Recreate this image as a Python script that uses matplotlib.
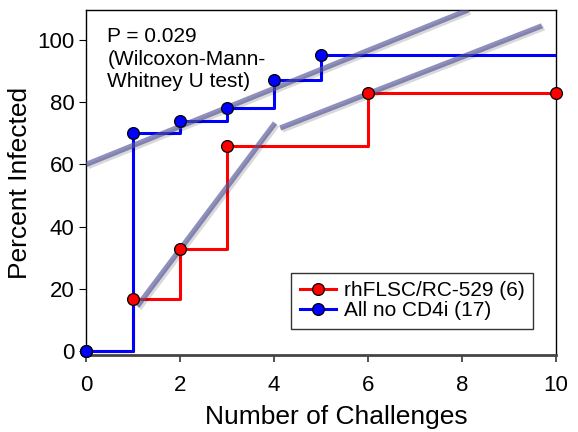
import matplotlib
matplotlib.use("Agg")
import matplotlib.pyplot as plt
import matplotlib.patheffects as pe

plt.rcParams['font.family'] = ['Liberation Sans', 'DejaVu Sans']

# step data
red_x = [0, 1, 2, 3, 6, 10]
red_y = [0, 16.7, 33, 66, 83, 83]
blue_x = [0, 1, 2, 3, 4, 5, 10]
blue_y = [0, 70, 74, 78, 87, 95, 95]
blue_marker_x = blue_x[:-1]
blue_marker_y = blue_y[:-1]

# trend lines (start/end points)
fit1_x = [0, 8.13]
fit1_y = [60, 109.6]
fit2a_x = [1.09, 4.02]
fit2a_y = [14.5, 73.3]
fit2b_x = [4.13, 9.7]
fit2b_y = [71.7, 104.5]

fig = plt.figure(figsize=(5.78, 4.32), dpi=100)
ax = fig.add_axes([0.149, 0.178, 0.813, 0.799])

fit_color = (0.33, 0.33, 0.6, 0.65)
shadow = [pe.SimpleLineShadow(offset=(1.5, -1.5), alpha=0.15), pe.Normal()]
for fx, fy in [(fit1_x, fit1_y), (fit2a_x, fit2a_y), (fit2b_x, fit2b_y)]:
    ax.plot(fx, fy, color=fit_color, lw=3.8, solid_capstyle='butt',
            path_effects=shadow, zorder=4)

ax.plot(red_x, red_y, drawstyle='steps-post', color='#ff0000', lw=2.2, zorder=2)
ax.plot(blue_x, blue_y, drawstyle='steps-post', color='#0000ff', lw=2.2, zorder=3)
ax.plot(red_x, red_y, 'o', color='#ff0000', mec='black', mew=0.9, ms=8.5,
        zorder=5, clip_on=False)
ax.plot(blue_marker_x, blue_marker_y, 'o', color='#0000ff', mec='black',
        mew=0.9, ms=8.5, zorder=5, clip_on=False)

# legend handles
h1, = ax.plot([], [], '-o', color='#ff0000', mec='black', mew=0.9, ms=8.5, lw=2.2)
h2, = ax.plot([], [], '-o', color='#0000ff', mec='black', mew=0.9, ms=8.5, lw=2.2)
leg = ax.legend([h1, h2], ['rhFLSC/RC-529 (6)', 'All no CD4i (17)'],
                loc='lower left', bbox_to_anchor=(0.437, 0.075),
                fontsize=15, frameon=True, fancybox=False, handlelength=1.7,
                handletextpad=0.4, labelspacing=0.05, borderpad=0.42,
                borderaxespad=0)
leg.get_frame().set_edgecolor('black')
leg.get_frame().set_linewidth(1.0)

ax.text(0.45, 104, 'P = 0.029\n(Wilcoxon-Mann-\nWhitney U test)', fontsize=15,
        va='top', ha='left', linespacing=1.22)

ax.set_xlim(0, 10)
ax.set_ylim(-1.2, 109.6)
ax.set_xticks([0, 2, 4, 6, 8, 10])
ax.set_yticks([0, 20, 40, 60, 80, 100])
ax.tick_params(axis='both', labelsize=16, direction='out', length=5)
ax.tick_params(axis='x', colors='#444444', labelcolor='black', width=1.3, pad=9)
ax.spines['bottom'].set_color('#444444')
ax.spines['bottom'].set_linewidth(2)
for s in ['left', 'top', 'right']:
    ax.spines[s].set_linewidth(1.0)
ax.set_xlabel('Number of Challenges', fontsize=19, labelpad=7, x=0.532)
ax.set_ylabel('Percent Infected', fontsize=19, labelpad=4)

fig.savefig('out.png', dpi=100)
